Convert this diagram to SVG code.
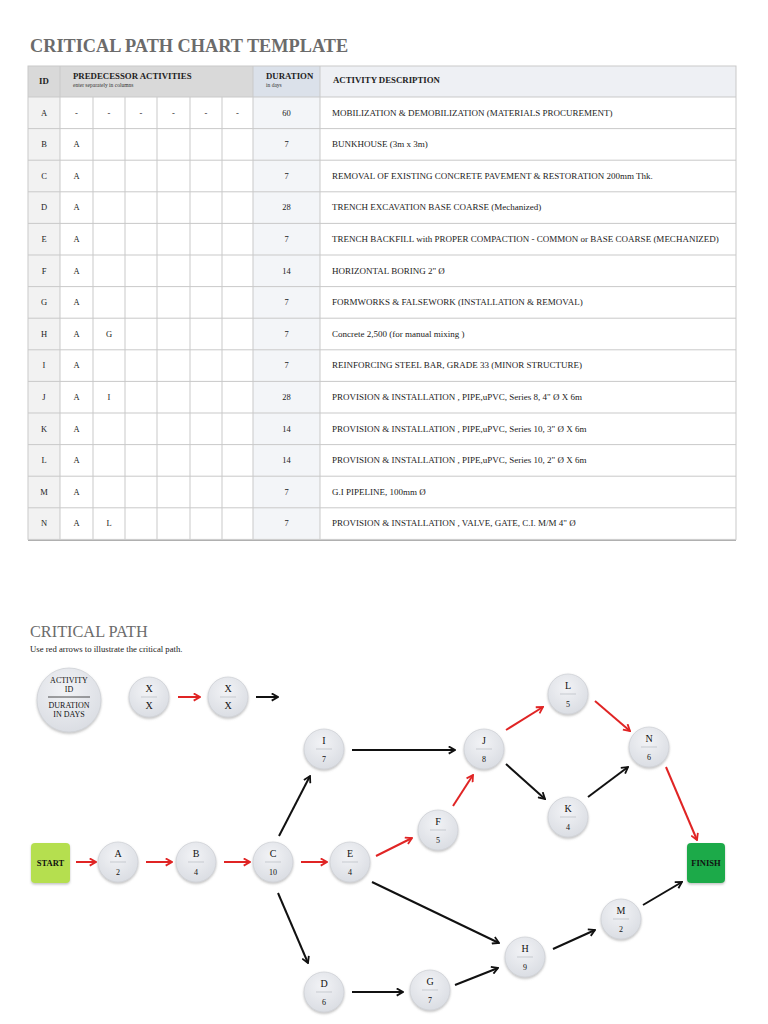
<svg xmlns="http://www.w3.org/2000/svg" width="768" height="1024" viewBox="0 0 768 1024">
<style>
.title{font-family:"Liberation Serif",serif;font-weight:bold;font-size:18.3px;fill:#6b6b6b}
.h{font-family:"Liberation Serif",serif;font-weight:bold;font-size:8.8px;fill:#222}
.hs{font-family:"Liberation Serif",serif;font-size:5.5px;fill:#333}
.c{font-family:"Liberation Serif",serif;font-size:8.5px;fill:#222;text-anchor:middle}
.d{font-family:"Liberation Serif",serif;font-size:9px;fill:#222}
.grid{stroke:#c9c9c9;stroke-width:1;fill:none}
.nl{font-family:"Liberation Serif",serif;font-size:10px;fill:#111;text-anchor:middle}
.nn{font-family:"Liberation Serif",serif;font-size:8px;fill:#111;text-anchor:middle}
.dv{stroke:#b8bcc2;stroke-width:0.7}
.node{fill:url(#ng);stroke:#cfd2d7;stroke-width:0.8;filter:url(#sh)}
.red{stroke:#e02424;stroke-width:2;fill:none;marker-end:url(#mr)}
.blk{stroke:#111;stroke-width:2;fill:none;marker-end:url(#mb)}
.box{font-family:"Liberation Serif",serif;font-size:8.5px;fill:#111;text-anchor:middle;font-weight:bold}
</style>
<defs>
<radialGradient id="ng" cx="45%" cy="35%" r="70%">
<stop offset="0" stop-color="#f2f3f6"/>
<stop offset="1" stop-color="#d9dce2"/>
</radialGradient>
<filter id="sh" x="-30%" y="-30%" width="160%" height="170%">
<feDropShadow dx="0" dy="1.5" stdDeviation="1.2" flood-color="#777" flood-opacity="0.45"/>
</filter>
<marker id="mr" viewBox="0 0 10 10" refX="8.5" refY="5" markerWidth="9" markerHeight="9" markerUnits="userSpaceOnUse" orient="auto">
<path d="M1.5,1 L8.5,5 L1.5,9" fill="none" stroke="#e02424" stroke-width="2"/>
</marker>
<marker id="mb" viewBox="0 0 10 10" refX="8.5" refY="5" markerWidth="9" markerHeight="9" markerUnits="userSpaceOnUse" orient="auto">
<path d="M1.5,1 L8.5,5 L1.5,9" fill="none" stroke="#111" stroke-width="2"/>
</marker>
</defs>
<rect width="768" height="1024" fill="#fff"/>
<text class="title" x="30" y="52">CRITICAL PATH CHART TEMPLATE</text>

<g id="table">
<rect x="28" y="66" width="32" height="31" fill="#d9d9d9"/>
<rect x="60" y="66" width="193" height="31" fill="#d9d9d9"/>
<rect x="253" y="66" width="67" height="31" fill="#dbe1ea"/>
<rect x="320" y="66" width="416" height="31" fill="#eef0f4"/>
<rect x="28" y="97" width="32" height="442.4" fill="#f2f2f2"/>
<rect x="253" y="97" width="67" height="442.4" fill="#f3f5f8"/>
<g class="grid">
<rect x="28" y="66" width="708" height="473.4"/>
<line x1="60" y1="66" x2="60" y2="539.4"/>
<line x1="93" y1="97" x2="93" y2="539.4"/>
<line x1="125" y1="97" x2="125" y2="539.4"/>
<line x1="157" y1="97" x2="157" y2="539.4"/>
<line x1="190" y1="97" x2="190" y2="539.4"/>
<line x1="222" y1="97" x2="222" y2="539.4"/>
<line x1="253" y1="66" x2="253" y2="539.4"/>
<line x1="320" y1="66" x2="320" y2="539.4"/>
<line x1="28" y1="97" x2="736" y2="97"/>
<line x1="28" y1="128.6" x2="736" y2="128.6"/>
<line x1="28" y1="160.2" x2="736" y2="160.2"/>
<line x1="28" y1="191.8" x2="736" y2="191.8"/>
<line x1="28" y1="223.4" x2="736" y2="223.4"/>
<line x1="28" y1="255" x2="736" y2="255"/>
<line x1="28" y1="286.6" x2="736" y2="286.6"/>
<line x1="28" y1="318.2" x2="736" y2="318.2"/>
<line x1="28" y1="349.8" x2="736" y2="349.8"/>
<line x1="28" y1="381.4" x2="736" y2="381.4"/>
<line x1="28" y1="413" x2="736" y2="413"/>
<line x1="28" y1="444.6" x2="736" y2="444.6"/>
<line x1="28" y1="476.2" x2="736" y2="476.2"/>
<line x1="28" y1="507.8" x2="736" y2="507.8"/>
</g>
<line x1="28" y1="540.5" x2="736" y2="540.5" stroke="#b0b0b0" stroke-width="1.2"/>
<text class="h" x="44" y="84" text-anchor="middle">ID</text>
<text class="h" x="73" y="79">PREDECESSOR ACTIVITIES</text>
<text class="hs" x="73" y="87">enter separately in columns</text>
<text class="h" x="266" y="79">DURATION</text>
<text class="hs" x="266" y="87">in days</text>
<text class="h" x="333" y="83">ACTIVITY DESCRIPTION</text>

<text class="c" x="44" y="115.5">A</text>
<text class="c" x="76.5" y="115.5">-</text><text class="c" x="109" y="115.5">-</text><text class="c" x="141" y="115.5">-</text><text class="c" x="173.5" y="115.5">-</text><text class="c" x="206" y="115.5">-</text><text class="c" x="237.5" y="115.5">-</text>
<text class="c" x="286.5" y="115.5">60</text>
<text class="d" x="332" y="115.5">MOBILIZATION &amp; DEMOBILIZATION (MATERIALS PROCUREMENT)</text>

<text class="c" x="44" y="147.1">B</text><text class="c" x="76.5" y="147.1">A</text><text class="c" x="286.5" y="147.1">7</text>
<text class="d" x="332" y="147.1">BUNKHOUSE (3m x 3m)</text>

<text class="c" x="44" y="178.7">C</text><text class="c" x="76.5" y="178.7">A</text><text class="c" x="286.5" y="178.7">7</text>
<text class="d" x="332" y="178.7">REMOVAL OF EXISTING CONCRETE PAVEMENT &amp; RESTORATION 200mm Thk.</text>

<text class="c" x="44" y="210.3">D</text><text class="c" x="76.5" y="210.3">A</text><text class="c" x="286.5" y="210.3">28</text>
<text class="d" x="332" y="210.3">TRENCH EXCAVATION BASE COARSE (Mechanized)</text>

<text class="c" x="44" y="241.9">E</text><text class="c" x="76.5" y="241.9">A</text><text class="c" x="286.5" y="241.9">7</text>
<text class="d" x="332" y="241.9">TRENCH BACKFILL with PROPER COMPACTION - COMMON or BASE COARSE (MECHANIZED)</text>

<text class="c" x="44" y="273.5">F</text><text class="c" x="76.5" y="273.5">A</text><text class="c" x="286.5" y="273.5">14</text>
<text class="d" x="332" y="273.5">HORIZONTAL BORING 2" Ø</text>

<text class="c" x="44" y="305.1">G</text><text class="c" x="76.5" y="305.1">A</text><text class="c" x="286.5" y="305.1">7</text>
<text class="d" x="332" y="305.1">FORMWORKS &amp; FALSEWORK (INSTALLATION &amp; REMOVAL)</text>

<text class="c" x="44" y="336.7">H</text><text class="c" x="76.5" y="336.7">A</text><text class="c" x="109" y="336.7">G</text><text class="c" x="286.5" y="336.7">7</text>
<text class="d" x="332" y="336.7">Concrete 2,500 (for manual mixing )</text>

<text class="c" x="44" y="368.3">I</text><text class="c" x="76.5" y="368.3">A</text><text class="c" x="286.5" y="368.3">7</text>
<text class="d" x="332" y="368.3">REINFORCING STEEL BAR, GRADE 33 (MINOR STRUCTURE)</text>

<text class="c" x="44" y="399.9">J</text><text class="c" x="76.5" y="399.9">A</text><text class="c" x="109" y="399.9">I</text><text class="c" x="286.5" y="399.9">28</text>
<text class="d" x="332" y="399.9">PROVISION &amp; INSTALLATION , PIPE,uPVC, Series 8, 4" Ø X 6m</text>

<text class="c" x="44" y="431.5">K</text><text class="c" x="76.5" y="431.5">A</text><text class="c" x="286.5" y="431.5">14</text>
<text class="d" x="332" y="431.5">PROVISION &amp; INSTALLATION , PIPE,uPVC, Series 10, 3" Ø X 6m</text>

<text class="c" x="44" y="463.1">L</text><text class="c" x="76.5" y="463.1">A</text><text class="c" x="286.5" y="463.1">14</text>
<text class="d" x="332" y="463.1">PROVISION &amp; INSTALLATION , PIPE,uPVC, Series 10, 2" Ø X 6m</text>

<text class="c" x="44" y="494.7">M</text><text class="c" x="76.5" y="494.7">A</text><text class="c" x="286.5" y="494.7">7</text>
<text class="d" x="332" y="494.7">G.I PIPELINE, 100mm Ø</text>

<text class="c" x="44" y="526.3">N</text><text class="c" x="76.5" y="526.3">A</text><text class="c" x="109" y="526.3">L</text><text class="c" x="286.5" y="526.3">7</text>
<text class="d" x="332" y="526.3">PROVISION &amp; INSTALLATION , VALVE, GATE, C.I. M/M 4" Ø</text>
</g>

<text x="30" y="637" font-family="Liberation Serif, serif" font-size="16.3" fill="#6b6b6b">CRITICAL PATH</text>
<text x="30" y="652" font-family="Liberation Serif, serif" font-size="8.7" fill="#222">Use red arrows to illustrate the critical path.</text>

<g id="legend">
<circle class="node" cx="69" cy="700" r="32"/>
<text class="nn" x="69" y="683" font-size="7.5">ACTIVITY</text>
<text class="nn" x="69" y="692" font-size="7.5">ID</text>
<line x1="48" y1="697" x2="90" y2="697" stroke="#222" stroke-width="0.8"/>
<text class="nn" x="69" y="708" font-size="7.5">DURATION</text>
<text class="nn" x="69" y="717" font-size="7.5">IN DAYS</text>
<circle class="node" cx="149" cy="697" r="20"/>
<text class="nl" x="149" y="692">X</text><line class="dv" x1="141" y1="697" x2="157" y2="697"/><text class="nl" x="149" y="709">X</text>
<circle class="node" cx="228" cy="697" r="20"/>
<text class="nl" x="228" y="692">X</text><line class="dv" x1="220" y1="697" x2="236" y2="697"/><text class="nl" x="228" y="709">X</text>
<line class="red" x1="178" y1="697" x2="200" y2="697"/>
<line class="blk" x1="256" y1="697" x2="278" y2="697"/>
</g>

<g id="connectors">
<line class="red" x1="76" y1="862" x2="96" y2="862"/>
<line class="red" x1="146" y1="862" x2="172" y2="862"/>
<line class="red" x1="224" y1="862" x2="250" y2="862"/>
<line class="red" x1="301" y1="862" x2="327" y2="862"/>
<line class="red" x1="376" y1="856" x2="412" y2="838"/>
<line class="red" x1="453" y1="806" x2="473" y2="775"/>
<line class="red" x1="506" y1="730" x2="543" y2="707"/>
<line class="red" x1="595" y1="701" x2="630" y2="731"/>
<line class="red" x1="666" y1="767" x2="697" y2="840"/>
<line class="blk" x1="352" y1="750" x2="455" y2="750"/>
<line class="blk" x1="279" y1="836" x2="310" y2="776"/>
<line class="blk" x1="506" y1="764" x2="545" y2="799"/>
<line class="blk" x1="588" y1="797" x2="628" y2="767"/>
<line class="blk" x1="278" y1="893" x2="308" y2="963"/>
<line class="blk" x1="372" y1="882" x2="499" y2="943"/>
<line class="blk" x1="352" y1="992" x2="403" y2="992"/>
<line class="blk" x1="455" y1="985" x2="498" y2="968"/>
<line class="blk" x1="553" y1="949" x2="595" y2="930"/>
<line class="blk" x1="643" y1="905" x2="682" y2="882"/>
</g>

<g id="start"><rect x="31" y="843" width="39" height="40" rx="4" fill="#b5df50" filter="url(#sh)"/><text class="box" x="50.5" y="866">START</text></g>
<g id="finish"><rect x="687" y="843" width="38" height="40" rx="4" fill="#1faa4a" filter="url(#sh)"/><text class="box" x="706" y="866" font-weight="normal">FINISH</text></g>

<g id="nA"><circle class="node" cx="118" cy="862" r="20"/><text class="nl" x="118" y="857">A</text><line class="dv" x1="110" y1="862" x2="126" y2="862"/><text class="nn" x="118" y="875">2</text></g>
<g id="nB"><circle class="node" cx="196" cy="862" r="20"/><text class="nl" x="196" y="857">B</text><line class="dv" x1="188" y1="862" x2="204" y2="862"/><text class="nn" x="196" y="875">4</text></g>
<g id="nC"><circle class="node" cx="273" cy="862" r="20"/><text class="nl" x="273" y="857">C</text><line class="dv" x1="265" y1="862" x2="281" y2="862"/><text class="nn" x="273" y="875">10</text></g>
<g id="nE"><circle class="node" cx="350" cy="862" r="20"/><text class="nl" x="350" y="857">E</text><line class="dv" x1="342" y1="862" x2="358" y2="862"/><text class="nn" x="350" y="875">4</text></g>
<g id="nI"><circle class="node" cx="324" cy="749" r="20"/><text class="nl" x="324" y="744">I</text><line class="dv" x1="316" y1="749" x2="332" y2="749"/><text class="nn" x="324" y="762">7</text></g>
<g id="nJ"><circle class="node" cx="484" cy="749" r="20"/><text class="nl" x="484" y="744">J</text><line class="dv" x1="476" y1="749" x2="492" y2="749"/><text class="nn" x="484" y="762">8</text></g>
<g id="nL"><circle class="node" cx="568" cy="694" r="20"/><text class="nl" x="568" y="689">L</text><line class="dv" x1="560" y1="694" x2="576" y2="694"/><text class="nn" x="568" y="707">5</text></g>
<g id="nN"><circle class="node" cx="649" cy="747" r="20"/><text class="nl" x="649" y="742">N</text><line class="dv" x1="641" y1="747" x2="657" y2="747"/><text class="nn" x="649" y="760">6</text></g>
<g id="nF"><circle class="node" cx="438" cy="830" r="20"/><text class="nl" x="438" y="825">F</text><line class="dv" x1="430" y1="830" x2="446" y2="830"/><text class="nn" x="438" y="843">5</text></g>
<g id="nK"><circle class="node" cx="568" cy="817" r="20"/><text class="nl" x="568" y="812">K</text><line class="dv" x1="560" y1="817" x2="576" y2="817"/><text class="nn" x="568" y="830">4</text></g>
<g id="nD"><circle class="node" cx="324" cy="992" r="20"/><text class="nl" x="324" y="987">D</text><line class="dv" x1="316" y1="992" x2="332" y2="992"/><text class="nn" x="324" y="1005">6</text></g>
<g id="nG"><circle class="node" cx="430" cy="990" r="20"/><text class="nl" x="430" y="985">G</text><line class="dv" x1="422" y1="990" x2="438" y2="990"/><text class="nn" x="430" y="1003">7</text></g>
<g id="nH"><circle class="node" cx="525" cy="957" r="20"/><text class="nl" x="525" y="952">H</text><line class="dv" x1="517" y1="957" x2="533" y2="957"/><text class="nn" x="525" y="970">9</text></g>
<g id="nM"><circle class="node" cx="621" cy="919" r="20"/><text class="nl" x="621" y="914">M</text><line class="dv" x1="613" y1="919" x2="629" y2="919"/><text class="nn" x="621" y="932">2</text></g>
</svg>
